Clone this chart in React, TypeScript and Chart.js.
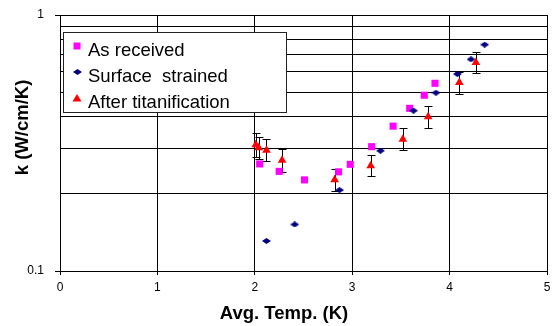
import React, { useEffect, useRef } from 'react';
import { Chart, registerables } from 'chart.js';

Chart.register(...registerables);

// ---- Data ----
const asReceivedT = [2.05, 2.25, 2.51, 2.86, 2.98, 3.2, 3.42, 3.59, 3.74, 3.85];
const asReceivedK = [0.262, 0.245, 0.227, 0.244, 0.261, 0.306, 0.368, 0.432, 0.486, 0.541];

const strainedT = [2.12, 2.41, 2.87, 3.29, 3.63, 3.86, 4.08, 4.22, 4.36];
const strainedK = [0.131, 0.152, 0.207, 0.295, 0.423, 0.497, 0.588, 0.671, 0.766];

const titanT = [2.01, 2.04, 2.12, 2.28, 2.82, 3.19, 3.52, 3.78, 4.1, 4.27];
const titanK = [0.311, 0.303, 0.296, 0.271, 0.227, 0.258, 0.327, 0.4, 0.545, 0.653];
const titanLow = [0.28, 0.273, 0.269, 0.244, 0.206, 0.234, 0.297, 0.361, 0.49, 0.592];
const titanHigh = [0.345, 0.335, 0.327, 0.3, 0.25, 0.284, 0.361, 0.442, 0.6, 0.719];

const seriesLabels = ['As received', 'Surface  strained', 'After titanification'];
const yGridValues = [0.1, 0.2, 0.3, 0.4, 0.5, 0.6, 0.7, 0.8, 0.9, 1];
const yTickLabels = [0.1, 1];
const xTitle = 'Avg. Temp. (K)';
const yTitle = 'k (W/cm/K)';

const FONT = '"Liberation Sans", Arial, sans-serif';
const MAGENTA = '#FF00FF';
const NAVY = '#000080';
const RED = '#FF0000';

function makeDiamond(w: number, h: number) {
  const c = document.createElement('canvas');
  c.width = w;
  c.height = h;
  const g = c.getContext('2d')!;
  g.fillStyle = NAVY;
  g.beginPath();
  g.moveTo(w / 2, 0);
  g.lineTo(w, h / 2);
  g.lineTo(w / 2, h);
  g.lineTo(0, h / 2);
  g.closePath();
  g.fill();
  return c;
}

const isLabelled = (n: number) => yTickLabels.some((t) => Math.abs(t - n) < 1e-9);

export default function App() {
  const ref = useRef<HTMLCanvasElement>(null);

  useEffect(() => {
    document.body.style.margin = '0';
    const diamond = makeDiamond(9, 6);

    const errorBars = {
      id: 'errorBars',
      beforeDatasetsDraw(chart: any) {
        const { ctx, scales } = chart;
        const xs = scales.x;
        const ys = scales.y;
        ctx.save();
        ctx.strokeStyle = '#000';
        ctx.lineWidth = 1;
        for (let i = 0; i < titanT.length; i++) {
          const x = Math.round(xs.getPixelForValue(titanT[i])) + 0.5;
          const y1 = Math.round(ys.getPixelForValue(titanLow[i])) + 0.5;
          const y2 = Math.round(ys.getPixelForValue(titanHigh[i])) + 0.5;
          ctx.beginPath();
          ctx.moveTo(x, y1);
          ctx.lineTo(x, y2);
          ctx.moveTo(x - 4, y1);
          ctx.lineTo(x + 4, y1);
          ctx.moveTo(x - 4, y2);
          ctx.lineTo(x + 4, y2);
          ctx.stroke();
        }
        ctx.restore();
      },
    };

    const overlay = {
      id: 'overlay',
      afterDraw(chart: any) {
        const { ctx } = chart;
        ctx.save();
        // Legend box
        ctx.fillStyle = '#fff';
        ctx.fillRect(63, 32, 224, 81);
        ctx.strokeStyle = '#222';
        ctx.lineWidth = 1;
        ctx.strokeRect(63.5, 32.5, 223, 80);
        // markers
        ctx.fillStyle = MAGENTA;
        ctx.fillRect(73.5, 42.5, 7, 7);
        ctx.drawImage(diamond, 73, 69);
        ctx.fillStyle = RED;
        ctx.beginPath();
        ctx.moveTo(77, 94);
        ctx.lineTo(81.5, 101.5);
        ctx.lineTo(72.5, 101.5);
        ctx.closePath();
        ctx.fill();
        // texts
        ctx.fillStyle = '#000';
        ctx.font = `18.5px ${FONT}`;
        ctx.textAlign = 'left';
        ctx.textBaseline = 'alphabetic';
        ctx.fillText(seriesLabels[0], 88, 56);
        ctx.fillText(seriesLabels[1], 88, 82);
        ctx.fillText(seriesLabels[2], 88, 108);
        // axis titles
        ctx.font = `bold 18.5px ${FONT}`;
        ctx.textAlign = 'center';
        ctx.textBaseline = 'middle';
        ctx.fillText(xTitle, 284, 314);
        ctx.translate(23, 127.5);
        ctx.rotate(-Math.PI / 2);
        ctx.fillText(yTitle, 0, 0);
        ctx.restore();
      },
    };

    const chart = new Chart(ref.current!, {
      type: 'scatter',
      data: {
        datasets: [
          {
            label: seriesLabels[2],
            data: titanT.map((t, i) => ({ x: t, y: titanK[i] })),
            pointStyle: 'triangle',
            pointRadius: 5,
            pointBackgroundColor: RED,
            pointBorderColor: RED,
            pointBorderWidth: 0,
            order: 0,
          },
          {
            label: seriesLabels[1],
            data: strainedT.map((t, i) => ({ x: t, y: strainedK[i] })),
            pointStyle: diamond as any,
            order: 1,
          },
          {
            label: seriesLabels[0],
            data: asReceivedT.map((t, i) => ({ x: t, y: asReceivedK[i] })),
            pointStyle: 'rect',
            pointRadius: 5,
            pointBackgroundColor: MAGENTA,
            pointBorderColor: MAGENTA,
            pointBorderWidth: 0,
            order: 2,
          },
        ],
      },
      options: {
        animation: false,
        responsive: false,
        layout: { padding: { top: 15, right: 8, left: 0, bottom: 0 } },
        plugins: {
          legend: { display: false },
          tooltip: { enabled: false },
        },
        scales: {
          x: {
            type: 'linear',
            min: 0,
            max: 5,
            afterFit: (s: any) => {
              s.height = 55;
              s.paddingLeft = 0;
              s.paddingRight = 0;
            },
            ticks: {
              stepSize: 1,
              color: '#000',
              font: { family: FONT, size: 12 },
              padding: 5,
            },
            grid: { color: '#000', tickLength: 4, tickColor: '#000' },
            border: { color: '#000' },
          },
          y: {
            type: 'logarithmic',
            min: 0.1,
            max: 1,
            afterFit: (s: any) => {
              s.width = 60;
              s.paddingTop = 0;
              s.paddingBottom = 0;
            },
            afterBuildTicks: (s: any) => {
              s.ticks = yGridValues.map((v) => ({ value: v, major: isLabelled(v) }));
            },
            ticks: {
              color: '#000',
              font: { family: FONT, size: 12 },
              padding: 11,
              autoSkip: false,
              callback: (v: any) => {
                const n = Number(v);
                return isLabelled(n) ? String(n) : '';
              },
            },
            grid: {
              color: '#000',
              tickLength: 5,
              tickColor: (c: any) => {
                const n = c.tick ? Number(c.tick.value) : NaN;
                return isLabelled(n) ? '#000' : 'rgba(0,0,0,0)';
              },
            },
            border: { color: '#000' },
          },
        },
      },
      plugins: [errorBars, overlay],
    });

    return () => chart.destroy();
  }, []);

  return (
    <div style={{ width: 555, height: 326 }}>
      <canvas ref={ref} width={555} height={326} style={{ display: 'block' }} />
    </div>
  );
}
